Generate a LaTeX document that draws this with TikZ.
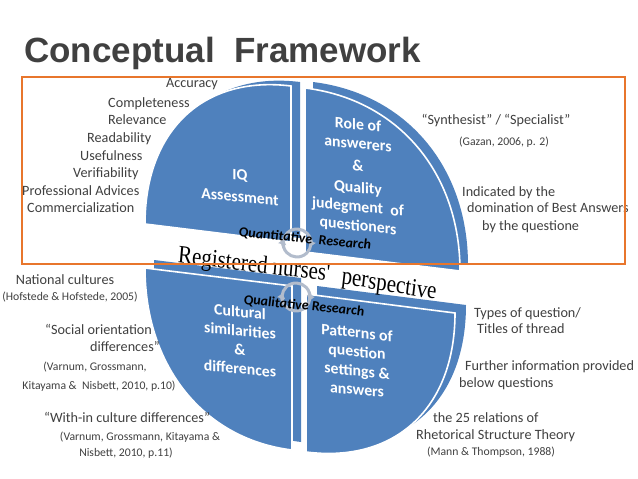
\documentclass[tikz,border=0pt]{standalone}
\usepackage{fontspec}
\setmainfont{Carlito}
\newfontfamily\titlefont{Liberation Sans}
\newfontfamily\wordartfont{Liberation Serif}
\usepackage{xcolor}
\usepackage{tikz}
\usetikzlibrary{arrows.meta}
\definecolor{pieblue}{RGB}{79,129,189}
\definecolor{frameorange}{RGB}{232,118,44}
\definecolor{txtgray}{RGB}{64,64,64}
\definecolor{cyclegray}{RGB}{178,188,204}
% the four pie faces, in picture pixels (y runs down)
\newcommand{\quadUL}{(291,242) -- (145,224) .. controls (145,130.4) and (203.4,75.2) .. (291,86) -- cycle}
\newcommand{\quadUR}{(305,252) -- (305,88) .. controls (398,99.4) and (460,172.6) .. (460,271) -- cycle}
\newcommand{\quadLL}{(292,286) -- (145,268) .. controls (145,366.4) and (203.8,439.2) .. (292,450) -- cycle}
\newcommand{\quadLR}{(306,294) -- (455,313) .. controls (455,407.8) and (395.4,463.4) .. (306,452) -- cycle}

\begin{document}
\begin{tikzpicture}[
  x=1pt, y=-1pt,
  lbl/.style={font=\fontsize{14.2}{17}\selectfont, text=txtgray, inner sep=0pt},
  ref/.style={font=\fontsize{11.7}{14}\selectfont, text=txtgray, inner sep=0pt},
  slab/.style={fill=pieblue},
  face/.style={fill=pieblue, draw=white, line width=1.6pt},
  inpie/.style={font=\bfseries\fontsize{15.8}{19}\selectfont, text=white, align=center, yslant=-0.1, inner sep=0pt},
  method/.style={font=\bfseries\itshape\fontsize{14}{17}\selectfont, yslant=-0.1, inner sep=0pt},
  cyc/.style={cyclegray, line width=3pt, -{Triangle[length=5pt,width=8pt]}},
  nurse/.style={font=\wordartfont\fontsize{25}{29}\selectfont, xscale=0.84, inner sep=0pt}]
\path[use as bounding box, fill=white] (0,0) rectangle (638,479);

\node[anchor=base west, font=\titlefont\bfseries\fontsize{35}{41}\selectfont, text=txtgray, inner sep=0pt] (title) at (24,62) {Conceptual\ \ Framework};

% slab thickness, then the faces
\fill[slab, shift={(9,-4)}] \quadUL;
\fill[slab, shift={(8,-6)}] \quadUR;
\fill[slab, shift={(9,-8)}] \quadLL;
\fill[slab, shift={(11,-8)}] \quadLR;
\filldraw[face] \quadUL;
\filldraw[face] \quadUR;
\filldraw[face] \quadLL;
\filldraw[face] \quadLR;

% cycle arrows in the middle
\draw[cyc] (297,243) ++(200:14pt) arc[start angle=200, end angle=-15, radius=14pt];
\draw[cyc] (297,243) ++(20:14pt) arc[start angle=20, end angle=-195, radius=14pt];
\draw[cyc] (296,297) ++(200:14pt) arc[start angle=200, end angle=-15, radius=14pt];
\draw[cyc] (296,297) ++(20:14pt) arc[start angle=20, end angle=-195, radius=14pt];

\node[inpie] (iq) at (240,186) {IQ\\[3pt]Assessment};
\node[inpie] (role) at (358,176) {Role of\\answerers\\[3pt]\&\\[3pt]Quality\\judegment\ \ of\\questioners};
\node[inpie] (cult) at (240,340) {Cultural\\similarities\\\&\\differences};
\node[inpie] (patt) at (357,361) {Patterns of\\question\\settings \&\\answers};

\node[method] (quant) at (305,239) {Quantitative\ \ Research};
\node[method] (qual) at (304,306) {Qualitative Research};
\node[nurse, rotate=-6] (reg) at (254,266) {Registered nurses'};
\node[nurse, rotate=-8] (persp) at (389,286) {perspective};

% upper left
\node[lbl, anchor=base west] (acc) at (166,87) {Accuracy};
\node[lbl, anchor=base west] (compl) at (108,107) {Completeness};
\node[lbl, anchor=base west] (relev) at (108,124) {Relevance};
\node[lbl, anchor=base west] (readab) at (87,142) {Readability};
\node[lbl, anchor=base west] (usef) at (80,160) {Usefulness};
\node[lbl, anchor=base west] (verif) at (73,177) {Verifiability};
\node[lbl, anchor=base west] (profadv) at (22,195) {Professional Advices};
\node[lbl, anchor=base west] (commerc) at (27,212) {Commercialization};
% upper right
\node[lbl, anchor=base] (synth) at (496,124) {“Synthesist” / “Specialist”};
\node[ref, anchor=base] (gazan) at (504,145) {(Gazan, 2006, p. 2)};
\node[lbl, anchor=base west] (indic) at (462,196) {Indicated by the};
\node[lbl, anchor=base west] (domin) at (467,212) {domination of Best Answers};
\node[lbl, anchor=base west] (byq) at (482,230) {by the questione};
% lower left
\node[lbl, anchor=base] (natcult) at (65,284) {National cultures};
\node[ref, anchor=base] (hofst) at (70,300) {(Hofstede \& Hofstede, 2005)};
\node[lbl, anchor=base west] (socor) at (45,334) {“Social orientation};
\node[lbl, anchor=base east] (socdif) at (160,351) {differences”};
\node[ref, anchor=base] (varn1) at (95,370) {(Varnum, Grossmann,};
\node[ref, anchor=base] (kitay1) at (99,389) {Kitayama \&\ \ Nisbett, 2010, p.10)};
\node[lbl, anchor=base] (within) at (127,422) {“With-in culture differences”};
\node[ref, anchor=base] (varn2) at (140,440) {(Varnum, Grossmann, Kitayama \&};
\node[ref, anchor=base] (nisb) at (126,456) {Nisbett, 2010, p.11)};
% lower right
\node[lbl, anchor=base west] (types) at (474,317) {Types of question/};
\node[lbl, anchor=base west] (titles) at (477,333) {Titles of thread};
\node[lbl, anchor=base west] (further) at (465,370) {Further information provided};
\node[lbl, anchor=base west] (below) at (459,387) {below questions};
\node[lbl, anchor=base west] (rels) at (433,422) {the 25 relations of};
\node[lbl, anchor=base west] (rst) at (416,439) {Rhetorical Structure Theory};
\node[ref, anchor=base] (mann) at (491,455) {(Mann \& Thompson, 1988)};

\draw[frameorange, line width=2.2pt] (22,77) rectangle (625,264);
\end{tikzpicture}
\end{document}
